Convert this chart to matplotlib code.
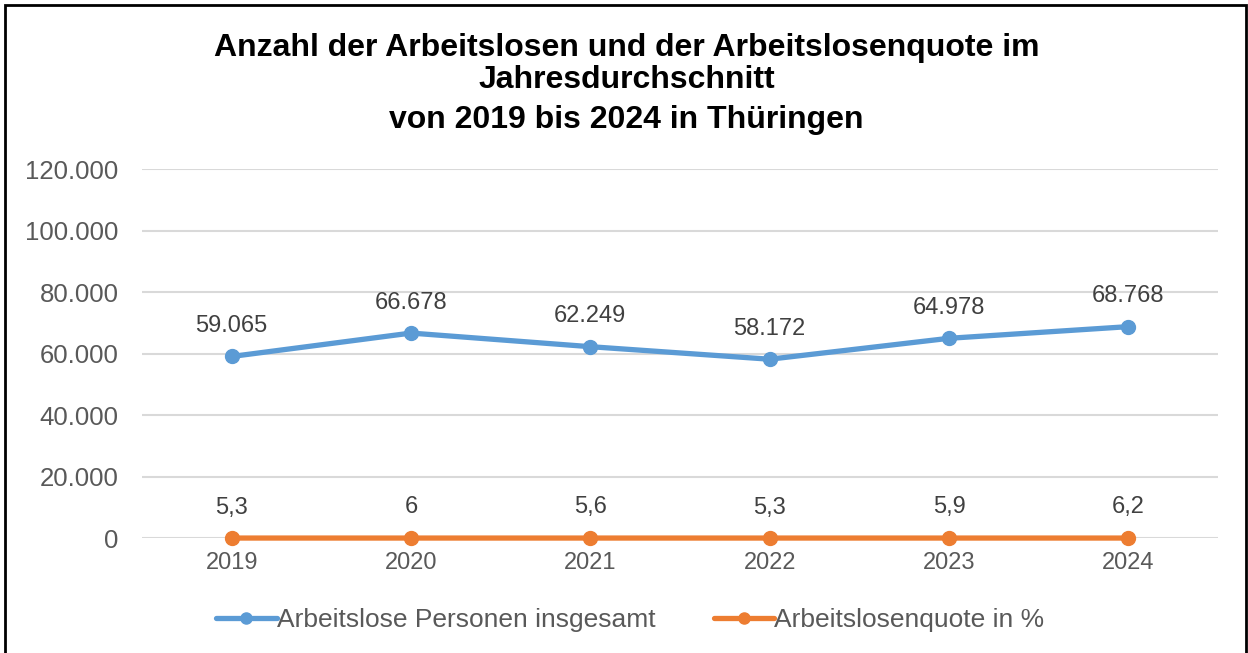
import matplotlib.pyplot as plt
from matplotlib.patches import Rectangle

plt.rcParams['font.family'] = ['Liberation Sans', 'DejaVu Sans']

jahre = ['2019', '2020', '2021', '2022', '2023', '2024']
arbeitslose = [59065, 66678, 62249, 58172, 64978, 68768]
quote = [5.3, 6.0, 5.6, 5.3, 5.9, 6.2]
label_arbeitslose = ['59.065', '66.678', '62.249', '58.172', '64.978', '68.768']
label_quote = ['5,3', '6', '5,6', '5,3', '5,9', '6,2']
y_ticks = [0, 20000, 40000, 60000, 80000, 100000, 120000]
y_ticklabels = ['0', '20.000', '40.000', '60.000', '80.000', '100.000', '120.000']

blue = '#5B9BD5'
orange = '#ED7D31'
grey = '#595959'

fig = plt.figure(figsize=(12.48, 6.53), dpi=100)
ax = fig.add_axes([0.1138, 0.176, 0.8622, 0.565])

x = range(len(jahre))
ax.plot(x, arbeitslose, color=blue, lw=3.8, marker='o', ms=10,
        label='Arbeitslose Personen insgesamt', solid_capstyle='round', zorder=3)
ax.plot(x, quote, color=orange, lw=3.8, marker='o', ms=10,
        label='Arbeitslosenquote in %', solid_capstyle='round', zorder=3,
        clip_on=False)

for i, (v, t) in enumerate(zip(arbeitslose, label_arbeitslose)):
    ax.annotate(t, (i, v), xytext=(0, 22), textcoords='offset points',
                ha='center', va='center', fontsize=17, color='#404040')
for i, (v, t) in enumerate(zip(quote, label_quote)):
    ax.annotate(t, (i, v), xytext=(0, 22), textcoords='offset points',
                ha='center', va='center', fontsize=17, color='#404040')

ax.set_xlim(-0.5, len(jahre) - 0.5)
ax.set_ylim(0, 120000)
ax.set_xticks(list(x))
ax.set_xticklabels(jahre, fontsize=17, color=grey)
ax.set_yticks(y_ticks)
ax.set_yticklabels(y_ticklabels, fontsize=18.5, color=grey)
ax.tick_params(length=0, pad=17)
ax.tick_params(axis='x', pad=10)
ax.grid(axis='y', color='#D9D9D9', lw=1.5)
ax.set_axisbelow(True)
for s in ax.spines.values():
    s.set_visible(False)

fig.text(0.502, 0.927, 'Anzahl der Arbeitslosen und der Arbeitslosenquote im',
         ha='center', va='center', fontsize=23, fontweight='bold')
fig.text(0.502, 0.877, 'Jahresdurchschnitt',
         ha='center', va='center', fontsize=23, fontweight='bold')
fig.text(0.502, 0.816, 'von 2019 bis 2024 in Thüringen',
         ha='center', va='center', fontsize=23, fontweight='bold')

fig.legend(loc='center', bbox_to_anchor=(0.505, 0.05), ncol=2, frameon=False,
           fontsize=19, labelcolor=grey, handlelength=2.3, handletextpad=0.0,
           columnspacing=2.2, markerscale=0.8)

fig.patches.append(Rectangle((0.004, -0.01), 0.994, 1.002, transform=fig.transFigure,
                             fill=False, edgecolor='black', lw=2))

fig.savefig('out.png', dpi=100)
